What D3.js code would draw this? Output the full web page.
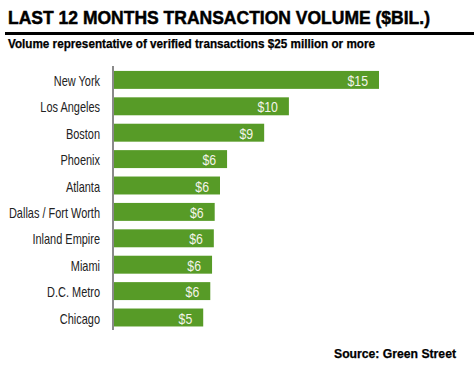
<!DOCTYPE html>
<html><head><meta charset="utf-8">
<script src="https://cdn.jsdelivr.net/npm/d3@7"></script>
<style>body{margin:0;background:#fff}</style>
</head><body>
<script>
const categories = ["New York","Los Angeles","Boston","Phoenix","Atlanta","Dallas / Fort Worth","Inland Empire","Miami","D.C. Metro","Chicago"];
const values = [15.0, 9.9, 8.5, 6.4, 6.0, 5.7, 5.65, 5.55, 5.45, 5.05];
const valueLabels = ["$15","$10","$9","$6","$6","$6","$6","$6","$6","$5"];
const title = "LAST 12 MONTHS TRANSACTION VOLUME ($BIL.)";
const subtitle = "Volume representative of verified transactions $25 million or more";
const source = "Source: Green Street";

const W = 474, H = 365;
const sans = "'Liberation Sans',Arial,Helvetica,sans-serif";
const svg = d3.select("body").append("svg").attr("width", W).attr("height", H);

svg.append("text").attr("x", 8).attr("y", 24).text(title)
  .attr("font-family", sans).attr("font-weight", "bold").attr("font-size", 19).attr("fill", "#000")
  .attr("stroke", "#000").attr("stroke-width", 0.5)
  .attr("textLength", 422).attr("lengthAdjust", "spacingAndGlyphs");
svg.append("rect").attr("x", 5).attr("y", 32).attr("width", W - 5).attr("height", 3).attr("fill", "#000");
svg.append("text").attr("x", 8).attr("y", 48.3).text(subtitle)
  .attr("font-family", sans).attr("font-weight", "bold").attr("font-size", 12).attr("fill", "#000")
  .attr("stroke", "#000").attr("stroke-width", 0.25)
  .attr("textLength", 367).attr("lengthAdjust", "spacingAndGlyphs");

const x = d3.scaleLinear().domain([0, 15]).range([114, 379]);
const y = d3.scaleBand().domain(categories).range([66.7, 330.7]).paddingInner(0.32).paddingOuter(0.16);

svg.append("g").selectAll("rect").data(categories).join("rect")
  .attr("x", x(0)).attr("y", d => y(d)).attr("height", y.bandwidth())
  .attr("width", (d, i) => x(values[i]) - x(0)).attr("fill", "#579b27");

svg.append("line").attr("x1", 113).attr("x2", 113).attr("y1", 66).attr("y2", 330)
  .attr("stroke", "#8a8a8a").attr("stroke-width", 2);

svg.append("g").selectAll("text").data(categories).join("text")
  .attr("transform", d => `translate(100,${y(d) + y.bandwidth() / 2 + 6}) scale(0.73,1)`)
  .attr("text-anchor", "end")
  .attr("font-family", sans).attr("font-size", 15).attr("fill", "#222").text(d => d);

svg.append("g").selectAll("text").data(categories).join("text")
  .attr("transform", (d, i) => `translate(${x(values[i]) - 11},${y(d) + y.bandwidth() / 2 + 6}) scale(0.82,1)`)
  .attr("text-anchor", "end")
  .attr("font-family", sans).attr("font-size", 15).attr("fill", "#f4f4ea").text((d, i) => valueLabels[i]);

svg.append("text").attr("x", 456).attr("y", 357.5).attr("text-anchor", "end").text(source)
  .attr("font-family", sans).attr("font-weight", "bold").attr("font-size", 12).attr("fill", "#000")
  .attr("stroke", "#000").attr("stroke-width", 0.25)
  .attr("textLength", 122).attr("lengthAdjust", "spacingAndGlyphs");
</script>
</body></html>
